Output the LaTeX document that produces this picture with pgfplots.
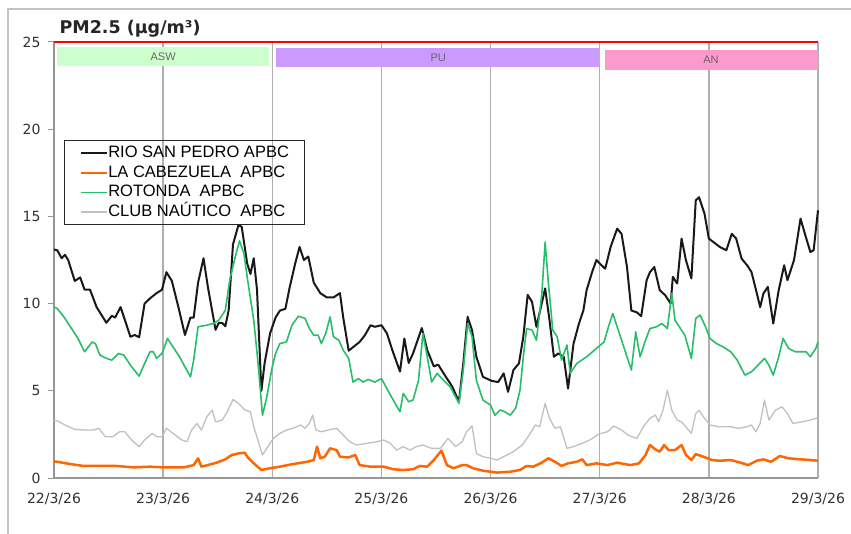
\documentclass[border=0pt]{standalone}
\usepackage{fontspec}
\setmainfont{DejaVu Sans}
\newfontfamily\arial{Liberation Sans}
\usepackage{pgfplots}
\pgfplotsset{compat=1.18}

\definecolor{rioblack}{RGB}{25,25,25}
\definecolor{cabeorange}{RGB}{255,102,0}
\definecolor{rotgreen}{RGB}{40,190,105}
\definecolor{clubgray}{RGB}{192,192,192}
\definecolor{bandgreen}{RGB}{204,255,204}
\definecolor{bandpurple}{RGB}{204,153,255}
\definecolor{bandpink}{RGB}{255,153,204}
\definecolor{axgray}{RGB}{150,150,150}
\definecolor{gridgray}{RGB}{175,175,175}
\definecolor{framegray}{RGB}{195,195,195}
\definecolor{ticktext}{RGB}{50,50,50}

\begin{document}
\begin{tikzpicture}
\useasboundingbox (-54pt,-55pt) rectangle (797pt,478pt);
% outer frame (left and top edges)
\draw[framegray, line width=2pt] (-46pt,-56pt) -- (-46pt,469pt) -- (798pt,469pt);

\begin{axis}[
  scale only axis,
  width=764pt, height=436pt,
  xmin=0, xmax=7, ymin=0, ymax=25,
  clip=false,
  axis x line*=bottom, axis y line*=left,
  axis line style={draw=axgray, line width=1.5pt},
  xtick={0,1,2,3,4,5,6,7},
  xticklabels={22/3/26,23/3/26,24/3/26,25/3/26,26/3/26,27/3/26,28/3/26,29/3/26},
  ytick={0,5,10,15,20,25},
  xmajorgrids,
  grid style={draw=gridgray, line width=1.5pt},
  xtick style={draw=none},
  ytick style={draw=axgray, line width=1pt},
  tick align=outside,
  major tick length=6pt,
  /pgf/number format/assume math mode=true,
  tick label style={font=\fontsize{14}{16}\selectfont, text=ticktext},
  xticklabel style={yshift=-6pt},
  yticklabel style={xshift=-4pt},
  every axis plot/.append style={line join=round},
  legend cell align=left,
  legend style={
    at={(rel axis cs:0.0131,0.775)}, anchor=north west,
    draw=black!85, line width=1pt, fill=none,
    font=\arial\fontsize{16.5}{19}\selectfont,
    inner xsep=15pt, inner ysep=3pt,
    nodes={inner xsep=0.3pt, inner ysep=2pt, text height=12pt, text depth=3.5pt},
    row sep=0pt, column sep=0pt,
  },
  legend image code/.code={\draw[#1] (0pt,0pt) -- (26pt,0pt);},
]

% period bands
\addplot[fill=bandgreen, draw=none, forget plot] coordinates
  {(0.03,23.64)(1.973,23.64)(1.973,24.70)(0.03,24.70)} -- cycle;
\addplot[fill=bandpurple, draw=none, forget plot] coordinates
  {(2.035,23.57)(5.005,23.57)(5.005,24.66)(2.035,24.66)} -- cycle;
\addplot[fill=bandpink, draw=none, forget plot] coordinates
  {(5.05,23.39)(7.0,23.39)(7.0,24.54)(5.05,24.54)} -- cycle;
\node[font=\arial\fontsize{11}{12}\selectfont, text=black!60] at (axis cs:1.0,24.17) {ASW};
\node[font=\arial\fontsize{11}{12}\selectfont, text=black!60] at (axis cs:3.52,24.12) {PU};
\node[font=\arial\fontsize{11}{12}\selectfont, text=black!60] at (axis cs:6.02,23.97) {AN};

% limit line
\addplot[red, line width=2.5pt, forget plot] coordinates {(0,25)(7,25)};

% RIO SAN PEDRO
\addplot[rioblack, line width=2pt] coordinates {
(0.00,13.1)(0.03,13.06)(0.07,12.6)(0.10,12.8)(0.13,12.5)(0.19,11.3)(0.24,11.5)(0.28,10.8)
(0.33,10.8)(0.39,9.8)(0.48,8.9)(0.53,9.3)(0.56,9.2)(0.61,9.8)(0.65,9.05)(0.70,8.1)(0.74,8.2)
(0.78,8.07)(0.83,10.0)(0.88,10.3)(0.94,10.6)(0.99,10.8)(1.03,11.8)(1.08,11.3)(1.14,9.8)
(1.20,8.2)(1.25,9.2)(1.28,9.2)(1.32,11.2)(1.37,12.6)(1.41,10.95)(1.48,8.5)(1.51,8.9)(1.54,8.9)
(1.57,8.7)(1.60,9.6)(1.64,13.4)(1.69,14.5)(1.72,14.4)(1.77,12.3)(1.80,11.7)(1.83,12.6)
(1.86,10.8)(1.90,5.0)(1.93,6.6)(1.98,8.3)(2.03,9.2)(2.07,9.6)(2.12,9.7)(2.16,10.95)(2.21,12.3)
(2.25,13.25)(2.29,12.5)(2.33,12.7)(2.38,11.2)(2.44,10.6)(2.50,10.35)(2.56,10.35)(2.62,10.6)
(2.65,9.2)(2.70,7.3)(2.74,7.5)(2.80,7.8)(2.85,8.2)(2.90,8.76)(2.94,8.67)(3.00,8.76)(3.05,8.3)
(3.10,7.33)(3.17,6.1)(3.21,8.0)(3.25,6.6)(3.29,7.15)(3.37,8.6)(3.42,7.33)(3.48,6.4)(3.52,6.5)
(3.58,5.9)(3.65,5.23)(3.71,4.37)(3.75,6.57)(3.79,9.24)(3.83,8.48)(3.87,6.95)(3.93,5.8)
(4.01,5.57)(4.07,5.5)(4.12,6.0)(4.16,4.94)(4.21,6.2)(4.26,6.57)(4.30,8.1)(4.34,10.5)(4.38,10.1)
(4.42,8.67)(4.50,10.87)(4.54,9.05)(4.58,6.95)(4.62,7.14)(4.67,6.95)(4.71,5.13)(4.76,7.7)
(4.81,8.86)(4.85,9.6)(4.88,10.77)(4.93,11.8)(4.97,12.5)(5.00,12.3)(5.05,12.0)(5.10,13.25)
(5.16,14.3)(5.20,14.0)(5.25,12.1)(5.29,9.6)(5.34,9.5)(5.38,9.28)(5.43,11.34)(5.46,11.8)
(5.50,12.1)(5.55,10.77)(5.60,10.48)(5.65,10.0)(5.67,11.53)(5.71,11.15)(5.75,13.73)(5.79,12.49)
(5.84,11.44)(5.88,15.92)(5.91,16.1)(5.96,15.16)(6.00,13.73)(6.06,13.44)(6.10,13.25)(6.16,13.06)
(6.21,14.0)(6.25,13.73)(6.30,12.58)(6.35,12.2)(6.39,11.82)(6.44,10.58)(6.47,9.8)(6.50,10.58)
(6.54,10.96)(6.59,8.86)(6.64,10.77)(6.69,12.2)(6.72,11.34)(6.78,12.49)(6.84,14.87)(6.88,14.0)
(6.93,12.96)(6.96,13.06)(7.00,15.35)
};
\addlegendentry{RIO SAN PEDRO APBC}

% LA CABEZUELA
\addplot[cabeorange, line width=2.5pt] coordinates {
(0.00,0.95)(0.03,0.93)(0.15,0.8)(0.27,0.69)(0.42,0.69)(0.57,0.69)(0.73,0.61)(0.88,0.65)(1.00,0.61)
(1.19,0.61)(1.28,0.74)(1.32,1.13)(1.35,0.65)(1.41,0.74)(1.49,0.88)(1.57,1.07)(1.63,1.32)
(1.69,1.41)(1.75,1.45)(1.77,1.22)(1.83,0.84)(1.90,0.46)(1.98,0.56)(2.07,0.65)(2.19,0.8)
(2.32,0.93)(2.38,1.03)(2.41,1.8)(2.44,1.13)(2.48,1.22)(2.53,1.7)(2.59,1.6)(2.62,1.22)(2.70,1.18)
(2.76,1.32)(2.80,0.74)(2.90,0.65)(3.02,0.65)(3.11,0.5)(3.20,0.46)(3.29,0.5)(3.35,0.69)(3.42,0.65)
(3.48,1.03)(3.55,1.57)(3.60,0.74)(3.66,0.56)(3.74,0.74)(3.78,0.74)(3.84,0.56)(3.93,0.42)
(4.06,0.31)(4.18,0.36)(4.27,0.46)(4.33,0.69)(4.39,0.65)(4.47,0.88)(4.53,1.13)(4.59,0.93)
(4.65,0.69)(4.71,0.84)(4.79,0.93)(4.84,1.07)(4.88,0.74)(4.97,0.84)(5.07,0.74)(5.16,0.88)
(5.28,0.74)(5.36,0.84)(5.42,1.32)(5.46,1.89)(5.51,1.64)(5.55,1.51)(5.59,1.89)(5.63,1.6)
(5.69,1.6)(5.75,1.89)(5.79,1.32)(5.84,1.03)(5.88,1.37)(5.95,1.22)(6.03,1.03)(6.10,0.99)
(6.20,1.03)(6.29,0.88)(6.36,0.74)(6.44,0.99)(6.50,1.07)(6.57,0.93)(6.65,1.26)(6.73,1.13)
(6.84,1.07)(6.93,1.03)(7.00,0.99)
};
\addlegendentry{LA CABEZUELA\ \ APBC}

% ROTONDA
\addplot[rotgreen, line width=1.6pt] coordinates {
(0.00,9.8)(0.03,9.72)(0.09,9.24)(0.15,8.67)(0.22,8.0)(0.28,7.24)(0.35,7.8)(0.38,7.7)(0.42,7.05)
(0.48,6.86)(0.53,6.76)(0.59,7.14)(0.64,7.05)(0.70,6.47)(0.78,5.84)(0.83,6.57)(0.88,7.24)
(0.91,7.24)(0.94,6.86)(0.99,7.14)(1.04,8.0)(1.09,7.52)(1.15,6.95)(1.25,5.8)(1.28,6.76)
(1.32,8.67)(1.40,8.76)(1.46,8.86)(1.51,9.05)(1.57,9.62)(1.61,11.34)(1.66,12.67)(1.70,13.6)
(1.74,12.87)(1.77,11.53)(1.83,9.05)(1.87,6.57)(1.91,3.6)(1.95,4.66)(2.00,6.38)(2.03,7.14)
(2.07,7.71)(2.13,7.8)(2.18,8.76)(2.24,9.28)(2.30,9.15)(2.34,8.57)(2.38,8.19)(2.42,8.19)
(2.45,7.71)(2.49,8.29)(2.53,9.24)(2.56,8.1)(2.61,7.9)(2.65,7.33)(2.70,6.86)(2.74,5.5)(2.79,5.7)
(2.83,5.5)(2.88,5.65)(2.94,5.5)(3.00,5.7)(3.05,5.13)(3.10,4.56)(3.17,3.8)(3.20,4.85)(3.25,4.37)
(3.29,4.47)(3.34,5.6)(3.38,8.29)(3.42,6.95)(3.46,5.5)(3.51,6.0)(3.57,5.6)(3.63,5.23)(3.71,4.28)
(3.75,6.19)(3.79,8.86)(3.83,8.1)(3.87,5.6)(3.93,4.47)(4.00,4.18)(4.04,3.6)(4.09,3.9)(4.13,3.8)
(4.18,3.6)(4.23,4.0)(4.27,5.04)(4.30,6.95)(4.33,8.57)(4.38,8.48)(4.42,7.9)(4.47,10.58)
(4.50,13.53)(4.53,11.15)(4.57,8.48)(4.61,8.1)(4.65,6.76)(4.70,7.62)(4.73,6.0)(4.79,6.57)
(4.88,6.95)(4.97,7.43)(5.04,7.8)(5.08,8.67)(5.12,9.43)(5.17,8.48)(5.23,7.33)(5.29,6.19)
(5.33,8.38)(5.37,6.95)(5.42,7.9)(5.46,8.57)(5.52,8.67)(5.57,8.86)(5.62,8.57)(5.66,10.58)
(5.69,9.05)(5.74,8.57)(5.78,8.19)(5.84,6.86)(5.88,9.15)(5.92,9.34)(5.97,8.67)(6.01,8.0)
(6.07,7.71)(6.13,7.52)(6.20,7.24)(6.26,6.76)(6.33,5.9)(6.39,6.09)(6.45,6.47)(6.51,6.86)
(6.55,6.47)(6.59,5.9)(6.64,6.95)(6.68,8.0)(6.73,7.43)(6.79,7.24)(6.85,7.24)(6.89,7.24)
(6.93,6.95)(6.98,7.43)(7.00,7.8)
};
\addlegendentry{ROTONDA\ \ APBC}

% CLUB NAUTICO
\addplot[clubgray, line width=1.3pt] coordinates {
(0.00,3.3)(0.03,3.28)(0.10,3.04)(0.19,2.79)(0.28,2.75)(0.36,2.75)(0.41,2.85)(0.47,2.37)(0.54,2.37)
(0.60,2.65)(0.65,2.65)(0.71,2.18)(0.78,1.8)(0.83,2.18)(0.90,2.56)(0.94,2.37)(0.99,2.37)
(1.03,2.85)(1.09,2.56)(1.17,2.18)(1.22,2.08)(1.26,2.75)(1.31,3.13)(1.35,2.75)(1.40,3.51)
(1.45,3.89)(1.48,3.22)(1.54,3.32)(1.58,3.70)(1.64,4.5)(1.69,4.28)(1.75,3.89)(1.80,3.8)
(1.83,2.94)(1.91,1.32)(1.96,1.8)(2.01,2.27)(2.07,2.56)(2.13,2.75)(2.19,2.85)(2.26,3.04)
(2.30,2.85)(2.34,3.13)(2.37,3.61)(2.40,2.75)(2.45,2.65)(2.51,2.75)(2.59,2.85)(2.65,2.46)
(2.71,2.08)(2.77,1.89)(2.87,1.99)(2.96,2.08)(3.02,2.18)(3.08,1.99)(3.14,1.6)(3.20,1.8)
(3.26,1.6)(3.32,1.8)(3.38,1.89)(3.46,1.7)(3.54,1.7)(3.61,2.27)(3.68,1.8)(3.74,2.08)(3.78,2.65)
(3.83,2.98)(3.87,1.41)(3.93,1.22)(4.00,1.13)(4.06,1.03)(4.13,1.26)(4.21,1.51)(4.29,1.89)
(4.36,2.52)(4.41,3.04)(4.45,2.94)(4.50,4.28)(4.54,3.42)(4.59,2.85)(4.64,2.94)(4.70,1.70)
(4.76,1.8)(4.84,1.99)(4.91,2.18)(4.99,2.52)(5.07,2.65)(5.13,2.98)(5.20,2.75)(5.26,2.46)
(5.34,2.27)(5.40,2.94)(5.46,3.42)(5.51,3.61)(5.54,3.22)(5.58,3.89)(5.62,5.04)(5.66,3.89)
(5.71,3.32)(5.75,3.22)(5.80,2.85)(5.84,2.56)(5.88,3.7)(5.91,3.89)(5.95,3.51)(6.01,3.04)
(6.09,2.94)(6.20,2.94)(6.27,2.85)(6.35,2.94)(6.39,3.04)(6.43,2.65)(6.47,3.13)(6.51,4.47)
(6.55,3.32)(6.61,3.89)(6.67,4.08)(6.72,3.7)(6.77,3.13)(6.85,3.22)(6.93,3.32)(7.00,3.47)
};
\addlegendentry{CLUB NAÚTICO\ \ APBC}

\end{axis}

\node[anchor=west, font=\bfseries\fontsize{17.5}{20}\selectfont, text=black!85] at (2pt,449pt) {PM2.5 (µg/m³)};
\end{tikzpicture}
\end{document}
